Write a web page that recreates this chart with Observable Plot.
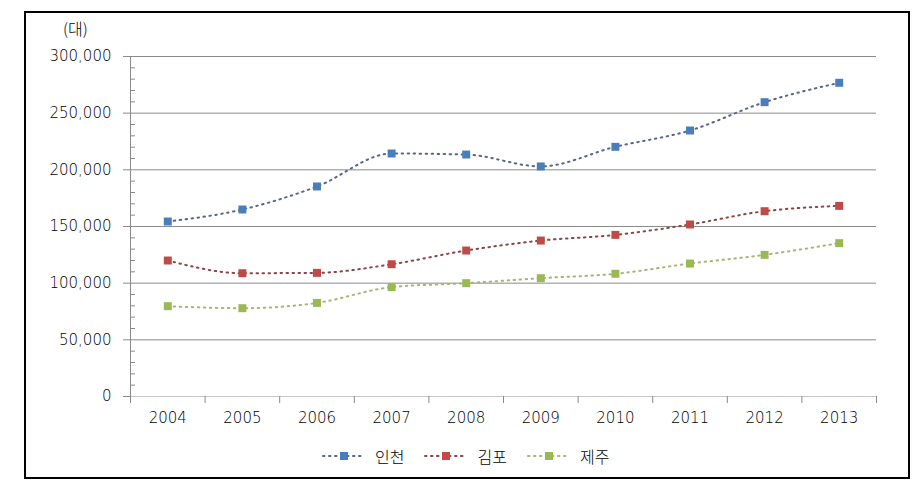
<!DOCTYPE html>
<html><head><meta charset="utf-8">
<script src="https://cdn.jsdelivr.net/npm/d3@7"></script>
<script src="https://cdn.jsdelivr.net/npm/@observablehq/plot@0.6"></script>
<style>
body{margin:0;background:#fff;font-family:"DejaVu Sans","Noto Sans CJK KR",sans-serif;}
#wrap{position:relative;width:923px;height:485px;overflow:hidden;}
#frame{position:absolute;left:24px;top:11px;width:882px;height:464px;border:2px solid #000;pointer-events:none;}
#unit{position:absolute;left:63px;top:16px;font-size:16px;font-weight:300;font-family:"Noto Sans CJK KR",sans-serif;color:#000;}
#legend{position:absolute;left:321px;top:444px;display:flex;align-items:center;font-family:"Noto Sans CJK KR",sans-serif;font-size:16px;font-weight:300;}
#legend .item{display:flex;align-items:center;margin-right:19px;}
#legend svg{margin-right:8px;}
#plot{position:absolute;left:0;top:0;}
#plot svg text{font-weight:200;}
</style>
</head><body>
<div id="wrap">
<div id="plot"></div>
<div id="unit">(대)</div>
<div id="legend"></div>
<div id="frame"></div>
</div>
<script>
const years = [2004,2005,2006,2007,2008,2009,2010,2011,2012,2013];
const seriesNames = ["인천","김포","제주"];
const incheon = [154400,165000,185300,214400,213500,203000,220300,234700,259700,276800];
const gimpo   = [120000,108800,109100,116700,128800,137600,142600,151800,163500,168200];
const jeju    = [79700,77900,82600,96500,100000,104400,108300,117300,125000,135300];
const markerColors = ["#4A7EBB","#BE4B48","#98B954"];
const lineColors = ["#5a6688","#8e4444","#a9b47a"];
const yTicks = [0,50000,100000,150000,200000,250000,300000];

const values = [incheon, gimpo, jeju];
const series = seriesNames.map((name,i)=>years.map((y,j)=>({year:y, value:values[i][j], series:name})));
const minor = d3.range(0,300001,10000).filter(v=>v%50000!==0);
const bounds = d3.range(years.length+1).map(i=>years[0]-0.5+i);

const marks = [
  Plot.gridY(yTicks.filter(v=>v>0), {stroke:"#8a8a8a", strokeOpacity:1}),
  Plot.ruleY([0], {stroke:"#c8c8c8"}),
  Plot.ruleX([bounds[0]], {stroke:"#8a8a8a"}),
  Plot.axisY({ticks:yTicks, tickSize:7, tickPadding:12, tickFormat:d3.format(","), stroke:"#8a8a8a", fontSize:15, label:null}),
  Plot.axisY({ticks:minor, tickSize:-5, tickFormat:()=>"" , stroke:"#8a8a8a", label:null}),
  Plot.axisX({ticks:years, tickSize:0, tickPadding:16, tickFormat:d=>String(d), fontSize:15, label:null}),
  Plot.axisX({ticks:bounds, tickSize:7, tickFormat:()=>"", stroke:"#8a8a8a", label:null}),
];
series.forEach((s,i)=>{
  marks.push(Plot.line(s, {x:"year", y:"value", stroke:lineColors[i], strokeWidth:2, strokeDasharray:"1.5,4.5", strokeLinecap:"round", curve:"monotone-x"}));
});
series.forEach((s,i)=>{
  marks.push(Plot.dot(s, {x:"year", y:"value", symbol:"square", r:4.5, fill:markerColors[i], stroke:"none"}));
});

const chart = Plot.plot({
  width:923, height:485,
  marginLeft:130, marginRight:47, marginTop:56, marginBottom:89,
  style:{background:"transparent", fontFamily:"DejaVu Sans, sans-serif", fontSize:"15px", color:"#000"},
  x:{type:"linear", domain:[bounds[0], bounds[bounds.length-1]]},
  y:{domain:[0,300000]},
  marks
});
document.getElementById("plot").appendChild(chart);

const leg = document.getElementById("legend");
seriesNames.forEach((name,i)=>{
  const item = document.createElement("div");
  item.className = "item";
  item.innerHTML = `<svg width="46" height="12"><line x1="2" y1="6" x2="44" y2="6" stroke="${lineColors[i]}" stroke-width="2" stroke-dasharray="1.5,4.5" stroke-linecap="round"/><rect x="19" y="2" width="8" height="8" fill="${markerColors[i]}"/></svg><span>${name}</span>`;
  leg.appendChild(item);
});
</script>
</body></html>
